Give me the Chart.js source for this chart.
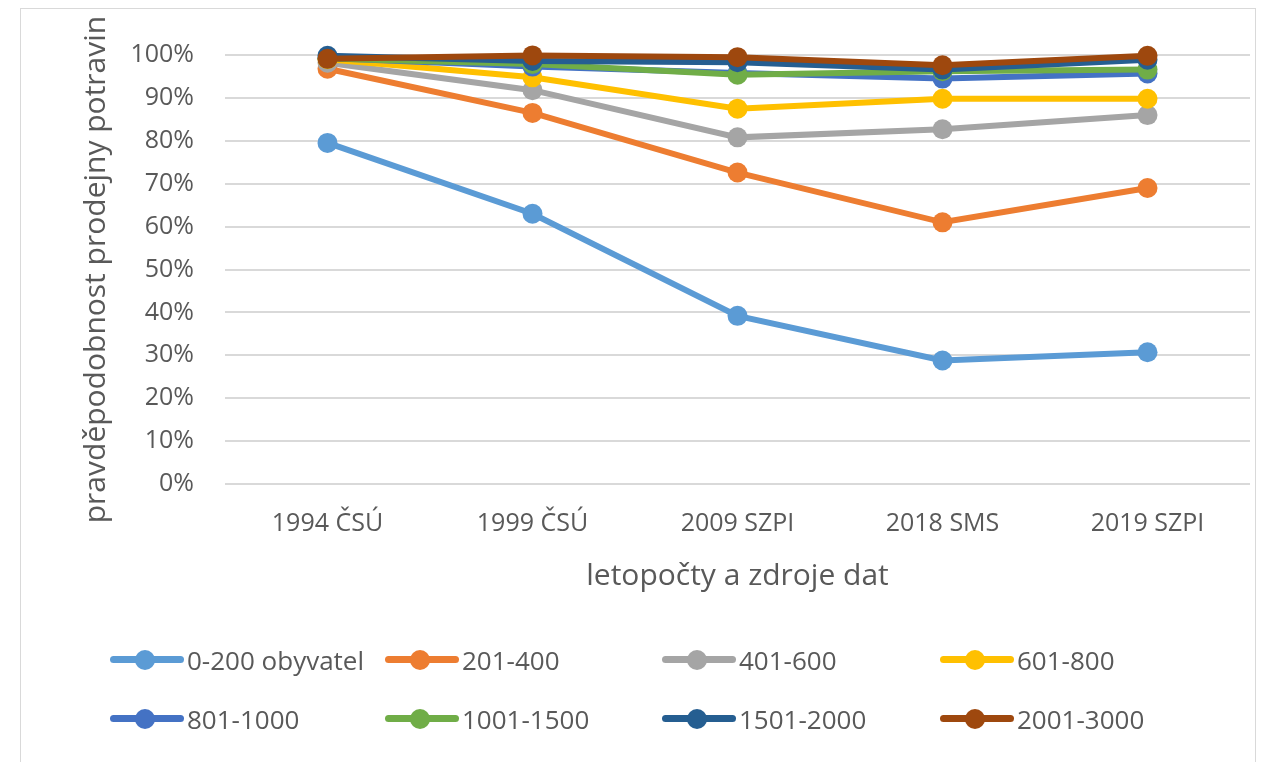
<!DOCTYPE html>
<html>
<head>
<meta charset="utf-8">
<script src="https://cdn.jsdelivr.net/npm/chart.js@4/dist/chart.umd.min.js"></script>
<style>
  html, body { margin:0; padding:0; background:#fff; }
  body { width:1266px; height:762px; position:relative; overflow:hidden; font-family:"Open Sans", sans-serif; }
  #frame { position:absolute; left:20px; top:8px; width:1236px; height:760px; border:1px solid #d9d9d9; box-sizing:border-box; }
  #wrap { position:absolute; left:0; top:0; width:1266px; height:598px; }
  #legend { position:absolute; left:0; top:0; width:1266px; height:762px; pointer-events:none; }
  .item { position:absolute; display:flex; align-items:center; height:36px; color:#595959; font-size:26px; white-space:nowrap; }
  .sym { position:relative; width:74px; height:36px; margin-right:3px; }
  .sym .ln { position:absolute; left:0; right:0; top:14px; height:7px; border-radius:4px; }
  .sym .dot { position:absolute; left:25px; top:8px; width:20px; height:20px; border-radius:50%; }
</style>
</head>
<body>
<div id="frame"></div>
<div id="wrap"><canvas id="c" width="1266" height="598"></canvas></div>
<div id="legend"></div>
<script>
const categories = ["1994 ČSÚ", "1999 ČSÚ", "2009 SZPI", "2018 SMS", "2019 SZPI"];
const yTicks = [0, 10, 20, 30, 40, 50, 60, 70, 80, 90, 100];
const seriesNames = ["0-200 obyvatel", "201-400", "401-600", "601-800", "801-1000", "1001-1500", "1501-2000", "2001-3000"];
const seriesColors = ["#5B9BD5", "#ED7D31", "#A5A5A5", "#FFC000", "#4472C4", "#70AD47", "#255E91", "#9E480E"];
const s0_200 = [79.5, 63, 39.2, 28.8, 30.7];
const s201_400 = [96.8, 86.5, 72.6, 61, 69];
const s401_600 = [98.2, 91.8, 80.8, 82.7, 86];
const s601_800 = [99, 94.8, 87.5, 89.8, 89.8];
const s801_1000 = [99.3, 97.3, 95.8, 94.5, 95.7];
const s1001_1500 = [99.2, 97.9, 95.4, 96.2, 96.6];
const s1501_2000 = [99.8, 98.6, 98.3, 96.6, 98.9];
const s2001_3000 = [99.1, 99.9, 99.5, 97.6, 99.8];
const seriesValues = [s0_200, s201_400, s401_600, s601_800, s801_1000, s1001_1500, s1501_2000, s2001_3000];

const datasets = seriesNames.map((n, i) => ({
  label: n,
  data: seriesValues[i],
  borderColor: seriesColors[i],
  backgroundColor: seriesColors[i],
  borderWidth: 6,
  pointRadius: 10,
  pointHoverRadius: 10,
  pointBorderWidth: 0,
  tension: 0,
  clip: false,
  order: seriesNames.length - i
}));

const textColor = "#595959";
new Chart(document.getElementById("c"), {
  type: "line",
  data: { labels: categories, datasets },
  options: {
    responsive: false,
    animation: false,
    events: [],
    layout: { padding: { left: 74, right: 16, top: 55, bottom: 0 } },
    plugins: { legend: { display: false }, tooltip: { enabled: false } },
    scales: {
      x: {
        offset: true,
        grid: { display: false, drawTicks: false },
        border: { display: false },
        ticks: { color: textColor, font: { family: "Open Sans", size: 25 }, padding: 25, maxRotation: 0 },
        title: { display: true, text: "letopočty a zdroje dat", color: textColor, font: { family: "Open Sans", size: 30 } },
        afterFit: (s) => { s.height = 114; }
      },
      y: {
        min: 0, max: 100,
        afterBuildTicks: (s) => { s.ticks = yTicks.map(v => ({ value: v })); },
        grid: { color: "#d9d9d9", lineWidth: 2, drawTicks: false },
        border: { display: false },
        ticks: { color: textColor, font: { family: "Open Sans", size: 25 }, padding: 31, callback: (v) => v + "%" },
        title: { display: true, text: "pravděpodobnost prodejny potravin", color: textColor, font: { family: "Open Sans", size: 30 } },
        afterFit: (s) => { s.width = 151; }
      }
    }
  }
});

// HTML legend built from the series arrays
const legendCols = [110, 385, 662, 940];
const legendRows = [660, 719];
const lg = document.getElementById("legend");
seriesNames.forEach((n, i) => {
  const d = document.createElement("div");
  d.className = "item";
  d.style.left = legendCols[i % 4] + "px";
  d.style.top = (legendRows[Math.floor(i / 4)] - 18) + "px";
  d.innerHTML = '<div class="sym"><div class="ln" style="background:' + seriesColors[i] + '"></div><div class="dot" style="background:' + seriesColors[i] + '"></div></div><span>' + n + '</span>';
  lg.appendChild(d);
});
</script>
</body>
</html>
